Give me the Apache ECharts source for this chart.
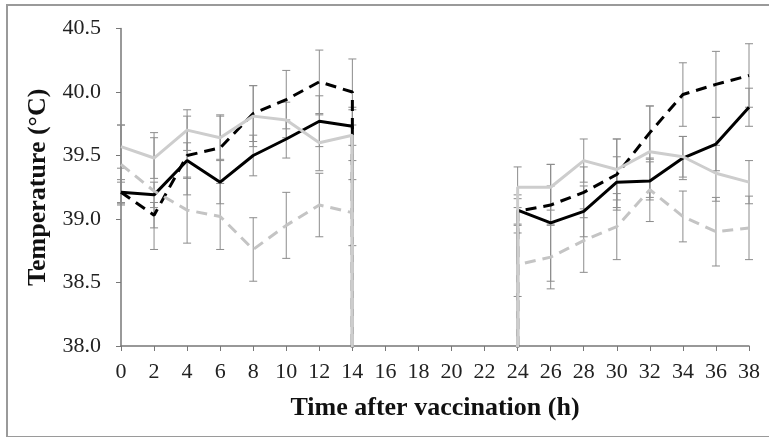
<!DOCTYPE html>
<html>
<head>
    <meta charset="UTF-8">
    <title></title>
    <script type="text/javascript" src="https://cdn.jsdelivr.net/npm/echarts@6/dist/echarts.min.js"></script>
    <style>
        html, body { margin: 0; padding: 0; background: #fff; }
        #frame { position: absolute; left: 6px; top: 4px; width: 780px; height: 430px;
                 border: 2px solid #9a9a9a; }
        #chart { position: absolute; left: 0; top: 0; width: 769px; height: 437px; }
    </style>
</head>
<body>
<div id="frame"></div>
<div id="chart"></div>
<script>
    // hours measured in the two sessions
    var hoursA = [0, 2, 4, 6, 8, 10, 12, 14];
    var hoursB = [24, 26, 28, 30, 32, 34, 36, 38];
    var xTicks = [0, 2, 4, 6, 8, 10, 12, 14, 16, 18, 20, 22, 24, 26, 28, 30, 32, 34, 36, 38];
    var yTicks = [38.0, 38.5, 39.0, 39.5, 40.0, 40.5];

    // black solid
    var blackSolidA = [39.21, 39.19, 39.46, 39.29, 39.50, 39.63, 39.77, 39.73];
    var blackSolidB = [39.07, 38.97, 39.06, 39.29, 39.30, 39.48, 39.59, 39.88];
    var blackSolidErrA = [0.10, 0.10, 0.14, 0.17, 0.16, 0.15, 0.20, 0.15];
    var blackSolidErrB = [0.12, 0.46, 0.20, 0.20, 0.15, 0.17, 0.21, 0.15];
    // black dashed
    var blackDashA = [39.21, 39.03, 39.50, 39.56, 39.83, 39.94, 40.08, 40.00];
    var blackDashB = [39.06, 39.11, 39.21, 39.35, 39.68, 39.98, 40.06, 40.13];
    var blackDashErrA = [0.08, 0.10, 0.31, 0.26, 0.22, 0.23, 0.25, 0.26];
    var blackDashErrB = [0.10, 0.15, 0.20, 0.28, 0.21, 0.25, 0.26, 0.25];
    // grey solid
    var greySolidA = [39.57, 39.48, 39.70, 39.64, 39.81, 39.78, 39.60, 39.66];
    var greySolidB = [39.25, 39.25, 39.46, 39.39, 39.53, 39.49, 39.36, 39.29];
    var greySolidErrA = [0.17, 0.16, 0.16, 0.17, 0.24, 0.14, 0.22, 0.20];
    var greySolidErrB = [0.16, 0.18, 0.17, 0.24, 0.36, 0.16, 0.22, 0.17];
    // grey dashed
    var greyDashA = [39.43, 39.22, 39.07, 39.02, 38.76, 38.95, 39.11, 39.05];
    var greyDashB = [38.64, 38.70, 38.83, 38.94, 39.23, 39.02, 38.90, 38.93];
    var greyDashErrA = [0.31, 0.46, 0.26, 0.26, 0.25, 0.26, 0.25, 0.26];
    var greyDashErrB = [0.25, 0.25, 0.25, 0.26, 0.25, 0.20, 0.27, 0.25];

    // the spreadsheet had zeros for the unmeasured hours, so lines drop off the axis
    var gapValue = 0;

    function lineData(a, b) {
        var d = [];
        for (var i = 0; i < hoursA.length; i++) d.push([hoursA[i], a[i]]);
        d.push([hoursA[hoursA.length - 1], gapValue]);
        d.push([hoursB[0], gapValue]);
        for (var j = 0; j < hoursB.length; j++) d.push([hoursB[j], b[j]]);
        return d;
    }
    function errData(a, b, ea, eb) {
        var d = [];
        for (var i = 0; i < hoursA.length; i++) d.push([hoursA[i], a[i], ea[i]]);
        for (var j = 0; j < hoursB.length; j++) d.push([hoursB[j], b[j], eb[j]]);
        return d;
    }
    function errSeries(data) {
        return {
            type: 'custom',
            data: data,
            z: 1,
            silent: true,
            renderItem: function (params, api) {
                var x = api.value(0), y = api.value(1), e = api.value(2);
                var top = api.coord([x, y + e]);
                var bot = api.coord([x, y - e]);
                var w = 4;
                var st = { stroke: '#8c8c8c', lineWidth: 1 };
                return {
                    type: 'group',
                    children: [
                        { type: 'line', shape: { x1: top[0], y1: top[1], x2: bot[0], y2: bot[1] }, style: st },
                        { type: 'line', shape: { x1: top[0] - w, y1: top[1], x2: top[0] + w, y2: top[1] }, style: st },
                        { type: 'line', shape: { x1: bot[0] - w, y1: bot[1], x2: bot[0] + w, y2: bot[1] }, style: st }
                    ]
                };
            }
        };
    }
    function lineSeries(name, data, color, dashed) {
        return {
            name: name,
            type: 'line',
            data: data,
            symbol: 'none',
            z: 2,
            clip: true,
            lineStyle: { color: color, width: 3, type: dashed ? [11, 7] : 'solid' }
        };
    }

    var myChart = echarts.init(document.getElementById('chart'));
    myChart.setOption({
        animation: false,
        grid: { left: 121, right: 20, top: 28.5, bottom: 91 },
        xAxis: {
            type: 'value',
            min: xTicks[0],
            max: xTicks[xTicks.length - 1],
            interval: 2,
            name: 'Time after vaccination (h)',
            nameLocation: 'middle',
            nameGap: 49,
            nameTextStyle: { fontFamily: 'Liberation Serif', fontWeight: 'bold', fontSize: 26, color: '#111' },
            axisLine: { lineStyle: { color: '#777', width: 1.5 } },
            axisTick: { length: 5, lineStyle: { color: '#777' } },
            axisLabel: { fontFamily: 'Liberation Serif', fontSize: 22, color: '#222', margin: 15 },
            splitLine: { show: false }
        },
        yAxis: {
            type: 'value',
            min: yTicks[0],
            max: yTicks[yTicks.length - 1],
            interval: 0.5,
            name: 'Temperature (°C)',
            nameLocation: 'middle',
            nameGap: 70,
            nameRotate: 90,
            nameTextStyle: { fontFamily: 'Liberation Serif', fontWeight: 'bold', fontSize: 26, color: '#111' },
            axisLine: { show: true, lineStyle: { color: '#777', width: 1.5 } },
            axisTick: { show: true, length: 5, lineStyle: { color: '#777' } },
            axisLabel: {
                fontFamily: 'Liberation Serif', fontSize: 22, color: '#222', margin: 20,
                formatter: function (v) { return v.toFixed(1); }
            },
            splitLine: { show: false }
        },
        series: [
            errSeries(errData(blackSolidA, blackSolidB, blackSolidErrA, blackSolidErrB)),
            errSeries(errData(blackDashA, blackDashB, blackDashErrA, blackDashErrB)),
            errSeries(errData(greySolidA, greySolidB, greySolidErrA, greySolidErrB)),
            errSeries(errData(greyDashA, greyDashB, greyDashErrA, greyDashErrB)),
            lineSeries('black solid', lineData(blackSolidA, blackSolidB), '#000', false),
            lineSeries('black dashed', lineData(blackDashA, blackDashB), '#000', true),
            lineSeries('grey dashed', lineData(greyDashA, greyDashB), '#c4c4c4', true),
            lineSeries('grey solid', lineData(greySolidA, greySolidB), '#cdcdcd', false)
        ]
    });
</script>
</body>
</html>
